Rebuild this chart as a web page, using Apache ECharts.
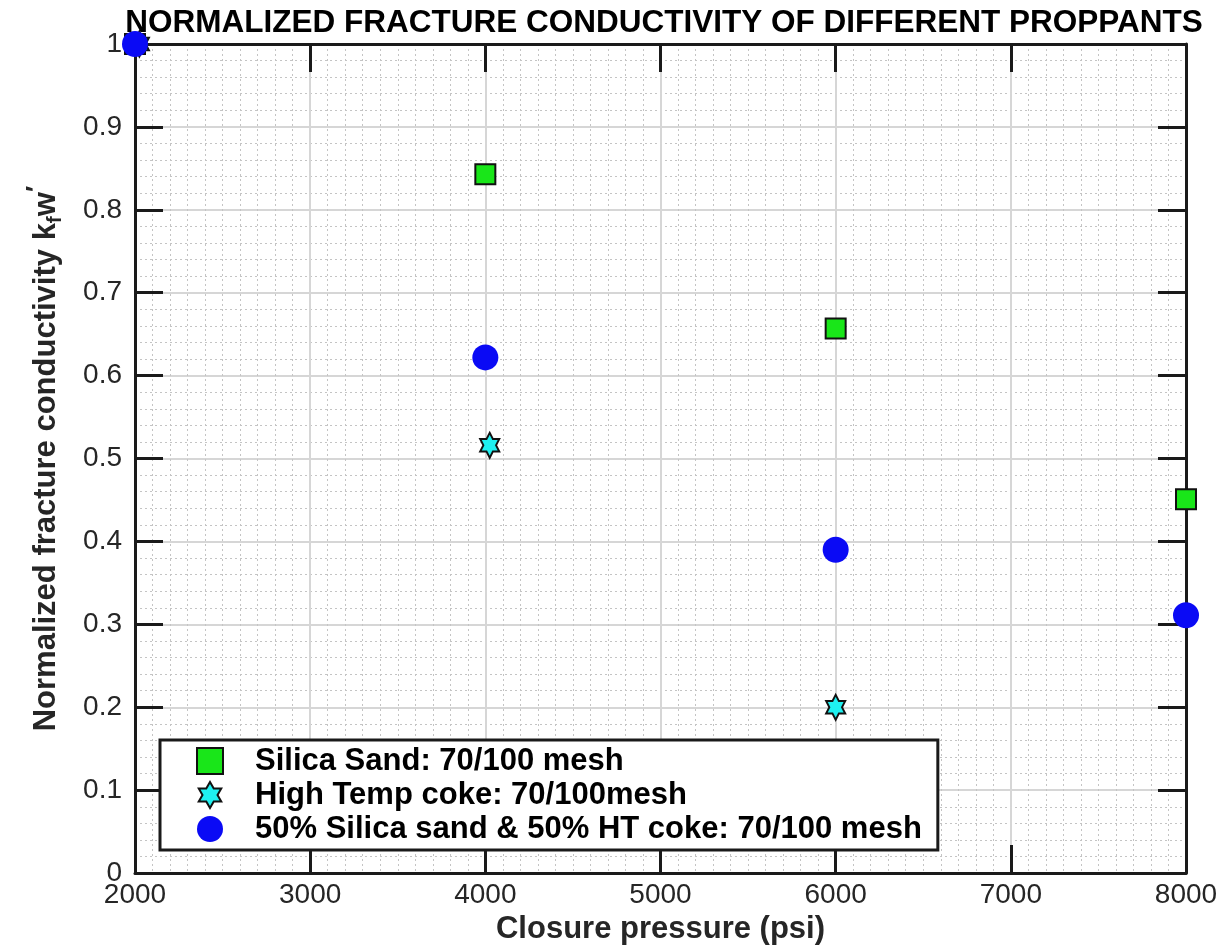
<!DOCTYPE html>
<html>
<head>
<meta charset="utf-8">
<script src="https://cdn.jsdelivr.net/npm/echarts@6/dist/echarts.min.js"></script>
<style>html,body{margin:0;padding:0;background:#fff;}#chart{width:1222px;height:950px;}</style>
</head>
<body>
<div id="chart"></div>
<script>
// ---- data ----
const titleText = 'NORMALIZED FRACTURE CONDUCTIVITY OF DIFFERENT PROPPANTS';
const xName = 'Closure pressure (psi)';
const seriesNames = ['Silica Sand: 70/100 mesh', 'High Temp coke: 70/100mesh', '50% Silica sand & 50% HT coke: 70/100 mesh'];
const silicaX = [2000, 4000, 6000, 8000];
const silicaY = [1.0, 0.843, 0.657, 0.451];
const cokeX = [2025, 4025, 6000];
const cokeY = [1.0, 0.516, 0.200];
const blendX = [2000, 4000, 6000, 8000];
const blendY = [1.0, 0.622, 0.390, 0.311];

const pairs = (xs, ys) => xs.map((x, i) => [x, ys[i]]);
const hexagram = 'path://M100 0 L128.87 50 L186.6 50 L157.74 100 L186.6 150 L128.87 150 L100 200 L71.13 150 L13.4 150 L42.26 100 L13.4 50 L71.13 50 Z';
const squarePath = 'path://M0 0 L100 0 L100 100 L0 100 Z';

const FONT = '"Liberation Sans", Arial, Helvetica, sans-serif';
const chart = echarts.init(document.getElementById('chart'), null, {renderer: 'canvas'});

const axisCommon = {
  axisLine: {show: true, onZero: false, lineStyle: {color: '#1a1a1a', width: 3}},
  axisTick: {show: true, inside: true, length: 28, lineStyle: {color: '#1a1a1a', width: 3}},
};

chart.setOption({
  backgroundColor: '#fff',
  animation: false,
  title: {
    text: titleText, left: 659, top: 2, textAlign: 'center',
    textStyle: {fontFamily: FONT, fontWeight: 'bold', fontSize: 31.5, color: '#000'}
  },
  grid: {left: 135, right: 36, top: 44, bottom: 74, containLabel: false},
  legend: {
    orient: 'vertical', left: 160, top: 740,
    backgroundColor: '#fff', borderColor: '#1a1a1a', borderWidth: 3,
    padding: [4, 16, 4, 36], itemGap: 0,
    itemWidth: 80, itemHeight: 26, symbolKeepAspect: true,
    textStyle: {fontFamily: FONT, fontWeight: 'bold', fontSize: 31, color: '#000', lineHeight: 34},
    data: [
      {name: seriesNames[0], icon: squarePath, itemStyle: {color: '#19e619', borderColor: '#111', borderWidth: 2}},
      {name: seriesNames[1]},
      {name: seriesNames[2]}
    ]
  },
  xAxis: [{
    type: 'value', min: 2000, max: 8000, interval: 1000, position: 'bottom',
    ...axisCommon,
    axisLabel: {fontFamily: FONT, fontSize: 28, color: '#262626', margin: 8, formatter: v => String(v)},
    splitLine: {show: true, lineStyle: {color: '#d6d6d6', width: 2}},
    minorTick: {show: false, splitNumber: 10},
    minorSplitLine: {show: true, lineStyle: {color: '#c4c4c4', width: 1, type: [2, 3]}},
    name: xName, nameLocation: 'middle', nameGap: 40,
    nameTextStyle: {fontFamily: FONT, fontWeight: 'bold', fontSize: 31, color: '#262626'}
  }, {
    type: 'value', min: 2000, max: 8000, interval: 1000, position: 'top',
    ...axisCommon, axisLabel: {show: false}, splitLine: {show: false}
  }],
  yAxis: [{
    type: 'value', min: 0, max: 1, interval: 0.1, position: 'left',
    ...axisCommon,
    axisLabel: {fontFamily: FONT, fontSize: 28, color: '#262626', margin: 13},
    splitLine: {show: true, lineStyle: {color: '#d6d6d6', width: 2}},
    minorTick: {show: false, splitNumber: 5},
    minorSplitLine: {show: true, lineStyle: {color: '#c4c4c4', width: 1, type: [2, 3]}},
    name: 'Normalized fracture conductivity k{sub|f}w{sup|\u2032}',
    nameLocation: 'middle', nameGap: 67, nameRotate: 90,
    nameTextStyle: {
      fontFamily: FONT, fontWeight: 'bold', fontSize: 31, color: '#262626',
      rich: {
        sub: {fontFamily: FONT, fontWeight: 'bold', fontSize: 21, color: '#262626', padding: [18, 0, 0, 0]},
        sup: {fontFamily: FONT, fontWeight: 'bold', fontSize: 26, color: '#262626', padding: [0, 0, 18, 0]}
      }
    }
  }, {
    type: 'value', min: 0, max: 1, interval: 0.1, position: 'right',
    ...axisCommon, axisLabel: {show: false}, splitLine: {show: false}
  }],
  series: [{
    name: seriesNames[0], type: 'scatter', clip: false,
    symbol: 'rect', symbolSize: 20,
    itemStyle: {color: '#19e619', borderColor: '#111', borderWidth: 2, opacity: 1},
    data: pairs(silicaX, silicaY), z: 3
  }, {
    name: seriesNames[1], type: 'scatter', clip: false,
    symbol: hexagram, symbolSize: [22, 25], symbolKeepAspect: true,
    itemStyle: {color: '#1ef0f0', borderColor: '#111', borderWidth: 2, opacity: 1},
    data: pairs(cokeX, cokeY), z: 4
  }, {
    name: seriesNames[2], type: 'scatter', clip: false,
    symbol: 'circle', symbolSize: 26,
    itemStyle: {color: '#0a0af5', borderColor: '#0a0af5', borderWidth: 0, opacity: 1},
    data: pairs(blendX, blendY), z: 5
  }]
});
</script>
</body>
</html>
